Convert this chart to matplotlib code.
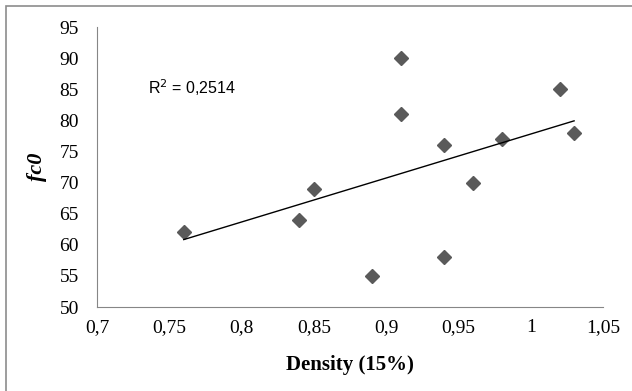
import numpy as np
import matplotlib
matplotlib.use('Agg')
import matplotlib.pyplot as plt
from matplotlib.patches import Rectangle

# Data
density = [0.76, 0.84, 0.85, 0.89, 0.91, 0.91, 0.94, 0.94, 0.96, 0.98, 1.02, 1.03]
fc0 = [62, 64, 69, 55, 90, 81, 76, 58, 70, 77, 85, 78]
x_ticks = [0.7, 0.75, 0.8, 0.85, 0.9, 0.95, 1.0, 1.05]
x_labels = ['0,7', '0,75', '0,8', '0,85', '0,9', '0,95', '1', '1,05']
y_ticks = [50, 55, 60, 65, 70, 75, 80, 85, 90, 95]

fig = plt.figure(figsize=(6.32, 3.91), dpi=100)
ax = fig.add_axes([97/632, 1-307/391, 506/632, 280/391])

# Outer frame
fig.patches.append(Rectangle((6/632, -0.1), 1.2, 1-6/391+0.1, transform=fig.transFigure,
                             fill=False, edgecolor='#8c8c8c', linewidth=1.2))

ax.plot(density, fc0, linestyle='none', marker='D', markersize=7, color='#5a5a5a')

# Linear trendline
m, b = np.polyfit(density, fc0, 1)
xs = np.array([min(density), max(density)])
ax.plot(xs, m*xs+b, color='black', linewidth=1)

ax.set_xlim(0.7, 1.05)
ax.set_ylim(50, 95)
ax.set_xticks(x_ticks)
ax.set_xticklabels(x_labels)
ax.set_yticks(y_ticks)
ax.tick_params(length=0, labelsize=14)
ax.tick_params(axis='y', pad=13)
ax.tick_params(axis='x', pad=9)
for lab in ax.get_xticklabels() + ax.get_yticklabels():
    lab.set_fontfamily('Liberation Serif')

for s in ['top', 'right']:
    ax.spines[s].set_visible(False)
for s in ['left', 'bottom']:
    ax.spines[s].set_color('#868686')

ax.text(0.735, 85.2, 'R$^2$ = 0,2514', fontsize=11.5, family='Liberation Sans', va='center')

ax.set_xlabel('Density (15%)', fontsize=15, family='Liberation Serif', fontweight='bold', labelpad=13)
ax.set_ylabel('fc0', fontsize=16, family='Liberation Serif', fontweight='bold', style='italic', labelpad=9)

fig.savefig('out.png', dpi=100)
